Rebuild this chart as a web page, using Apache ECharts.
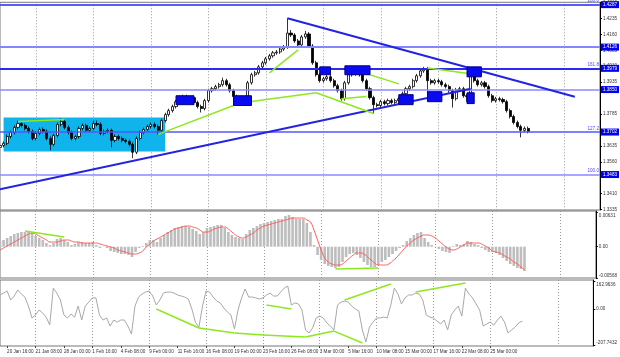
<!DOCTYPE html>
<html><head><meta charset="utf-8">
<script src="https://cdn.jsdelivr.net/npm/echarts@6/dist/echarts.min.js"></script>
<style>html,body{margin:0;padding:0;background:#fff}#c{width:620px;height:357px}</style>
</head><body><div id="c"></div>
<script>
// ---- data ----
const tickLabels = ['20 Jan 16:00','21 Jan 08:00','28 Jan 00:00','1 Feb 16:00','4 Feb 08:00','9 Feb 00:00','11 Feb 16:00','16 Feb 08:00','19 Feb 00:00','23 Feb 16:00','26 Feb 08:00','3 Mar 00:00','5 Mar 16:00','10 Mar 08:00','15 Mar 00:00','17 Mar 16:00','22 Mar 08:00','25 Mar 00:00'];
// [open, close, low, high]
const candles = [
[1.3628,1.3637,1.3619,1.3646],[1.3637,1.3647,1.3628,1.3656],[1.3647,1.3679,1.3638,1.3688],[1.3679,1.3698,1.3670,1.3707],
[1.3698,1.3722,1.3689,1.3731],[1.3722,1.3740,1.3713,1.3754],[1.3740,1.3731,1.3722,1.3749],[1.3731,1.3717,1.3708,1.3740],
[1.3717,1.3703,1.3694,1.3726],[1.3703,1.3670,1.3661,1.3712],[1.3670,1.3694,1.3661,1.3703],[1.3694,1.3712,1.3685,1.3721],
[1.3712,1.3703,1.3694,1.3721],[1.3703,1.3670,1.3661,1.3712],[1.3670,1.3642,1.3614,1.3679],[1.3642,1.3684,1.3633,1.3693],
[1.3684,1.3736,1.3675,1.3745],[1.3736,1.3750,1.3727,1.3764],[1.3750,1.3722,1.3713,1.3759],[1.3722,1.3698,1.3689,1.3731],
[1.3698,1.3670,1.3661,1.3707],[1.3670,1.3679,1.3661,1.3688],[1.3679,1.3717,1.3670,1.3726],[1.3717,1.3731,1.3708,1.3740],
[1.3731,1.3708,1.3699,1.3740],[1.3708,1.3717,1.3699,1.3726],[1.3717,1.3740,1.3708,1.3754],[1.3740,1.3736,1.3727,1.3754],
[1.3736,1.3694,1.3685,1.3745],[1.3694,1.3703,1.3685,1.3712],[1.3703,1.3708,1.3694,1.3717],[1.3708,1.3661,1.3628,1.3717],
[1.3661,1.3679,1.3652,1.3688],[1.3679,1.3670,1.3661,1.3688],[1.3670,1.3661,1.3652,1.3679],[1.3661,1.3656,1.3647,1.3670],
[1.3656,1.3642,1.3633,1.3665],[1.3642,1.3605,1.3577,1.3651],[1.3605,1.3670,1.3596,1.3679],[1.3670,1.3698,1.3661,1.3707],
[1.3698,1.3712,1.3689,1.3721],[1.3712,1.3726,1.3703,1.3735],[1.3726,1.3736,1.3717,1.3745],[1.3736,1.3726,1.3717,1.3745],
[1.3726,1.3708,1.3689,1.3735],[1.3708,1.3754,1.3699,1.3763],[1.3754,1.3782,1.3745,1.3791],[1.3782,1.3801,1.3773,1.3810],
[1.3801,1.3820,1.3792,1.3829],[1.3820,1.3843,1.3811,1.3852],[1.3843,1.3862,1.3834,1.3871],[1.3862,1.3867,1.3853,1.3876],
[1.3867,1.3857,1.3848,1.3876],[1.3857,1.3862,1.3848,1.3871],[1.3862,1.3839,1.3830,1.3871],[1.3839,1.3820,1.3811,1.3848],
[1.3820,1.3811,1.3792,1.3829],[1.3811,1.3848,1.3802,1.3857],[1.3848,1.3895,1.3839,1.3904],[1.3895,1.3904,1.3886,1.3913],
[1.3904,1.3914,1.3895,1.3923],[1.3914,1.3923,1.3905,1.3932],[1.3923,1.3942,1.3914,1.3956],[1.3942,1.3923,1.3914,1.3951],
[1.3923,1.3895,1.3886,1.3932],[1.3895,1.3867,1.3858,1.3904],[1.3867,1.3857,1.3848,1.3876],[1.3857,1.3848,1.3839,1.3866],
[1.3848,1.3843,1.3834,1.3857],[1.3843,1.3932,1.3834,1.3941],[1.3932,1.3970,1.3923,1.3979],[1.3970,1.3979,1.3961,1.3988],
[1.3979,1.4007,1.3970,1.4016],[1.4007,1.4026,1.3998,1.4035],[1.4026,1.4045,1.4017,1.4054],[1.4045,1.4059,1.4036,1.4068],
[1.4059,1.4073,1.4050,1.4082],[1.4073,1.4077,1.4064,1.4086],[1.4077,1.4091,1.4068,1.4100],[1.4091,1.4101,1.4082,1.4110],
[1.4101,1.4166,1.4092,1.4236],[1.4166,1.4157,1.4148,1.4180],[1.4157,1.4129,1.4120,1.4166],[1.4129,1.4110,1.4101,1.4138],
[1.4110,1.4148,1.4101,1.4157],[1.4148,1.4162,1.4139,1.4176],[1.4162,1.4105,1.4096,1.4171],[1.4105,1.4026,1.4017,1.4114],
[1.4026,1.3970,1.3961,1.4035],[1.3970,1.3942,1.3933,1.3979],[1.3942,1.3951,1.3933,1.3960],[1.3951,1.3960,1.3942,1.3969],
[1.3960,1.3942,1.3933,1.3969],[1.3942,1.3918,1.3909,1.3951],[1.3918,1.3895,1.3886,1.3927],[1.3895,1.3857,1.3848,1.3904],
[1.3857,1.3932,1.3848,1.3941],[1.3932,1.3970,1.3923,1.3979],[1.3970,1.3974,1.3961,1.3983],[1.3974,1.3979,1.3965,1.3988],
[1.3979,1.3970,1.3961,1.3988],[1.3970,1.3942,1.3933,1.3979],[1.3942,1.3904,1.3895,1.3951],[1.3904,1.3862,1.3853,1.3913],
[1.3862,1.3829,1.3787,1.3871],[1.3829,1.3825,1.3816,1.3838],[1.3825,1.3843,1.3816,1.3852],[1.3843,1.3834,1.3825,1.3852],
[1.3834,1.3848,1.3825,1.3857],[1.3848,1.3839,1.3830,1.3857],[1.3839,1.3848,1.3830,1.3857],[1.3848,1.3857,1.3839,1.3866],
[1.3857,1.3881,1.3848,1.3890],[1.3881,1.3904,1.3872,1.3913],[1.3904,1.3914,1.3895,1.3923],[1.3914,1.3942,1.3905,1.3951],
[1.3942,1.3965,1.3933,1.3974],[1.3965,1.3988,1.3956,1.3997],[1.3988,1.3998,1.3979,1.4007],[1.3998,1.3942,1.3881,1.4007],
[1.3942,1.3932,1.3923,1.3951],[1.3932,1.3942,1.3923,1.3951],[1.3942,1.3937,1.3928,1.3951],[1.3937,1.3923,1.3914,1.3946],
[1.3923,1.3914,1.3905,1.3932],[1.3914,1.3895,1.3886,1.3923],[1.3895,1.3857,1.3815,1.3904],[1.3857,1.3899,1.3848,1.3908],
[1.3899,1.3904,1.3890,1.3913],[1.3904,1.3871,1.3862,1.3913],[1.3871,1.3867,1.3843,1.3880],[1.3867,1.3970,1.3858,1.3998],
[1.3970,1.3942,1.3933,1.3979],[1.3942,1.3923,1.3914,1.3951],[1.3923,1.3932,1.3914,1.3941],[1.3932,1.3914,1.3905,1.3941],
[1.3914,1.3871,1.3862,1.3923],[1.3871,1.3848,1.3839,1.3880],[1.3848,1.3857,1.3839,1.3866],[1.3857,1.3853,1.3844,1.3866],
[1.3853,1.3843,1.3834,1.3862],[1.3843,1.3801,1.3792,1.3852],[1.3801,1.3773,1.3764,1.3810],[1.3773,1.3745,1.3736,1.3782],
[1.3745,1.3726,1.3717,1.3754],[1.3726,1.3708,1.3675,1.3735],[1.3708,1.3717,1.3699,1.3726],[1.3717,1.3703,1.3694,1.3726]
];
const macdHist = [
0.00104,0.00122,0.00158,0.00194,0.00230,0.00249,0.00267,0.00267,0.00267,0.00249,0.00194,0.00158,0.00122,0.00067,0.00031,0.00067,
0.00140,0.00158,0.00122,0.00085,0.00031,0.00049,0.00085,0.00085,0.00067,0.00067,0.00085,0.00031,-0.00024,-0.00005,-0.00024,-0.00078,
-0.00096,-0.00114,-0.00133,-0.00133,-0.00151,-0.00187,-0.00096,-0.00024,0.00013,0.00067,0.00122,0.00122,0.00085,0.00158,0.00213,0.00267,
0.00303,0.00340,0.00358,0.00376,0.00376,0.00358,0.00321,0.00285,0.00230,0.00267,0.00340,0.00358,0.00376,0.00394,0.00394,0.00340,
0.00267,0.00213,0.00176,0.00158,0.00140,0.00230,0.00303,0.00340,0.00376,0.00412,0.00431,0.00449,0.00467,0.00485,0.00503,0.00503,
0.00558,0.00576,0.00540,0.00503,0.00503,0.00503,0.00431,0.00267,0.00031,-0.00151,-0.00242,-0.00314,-0.00351,-0.00369,-0.00387,-0.00369,
-0.00278,-0.00187,-0.00133,-0.00114,-0.00151,-0.00205,-0.00278,-0.00333,-0.00369,-0.00369,-0.00333,-0.00278,-0.00242,-0.00187,-0.00133,-0.00078,
-0.00024,0.00031,0.00104,0.00158,0.00213,0.00249,0.00267,0.00158,0.00085,0.00031,-0.00005,-0.00042,-0.00078,-0.00096,-0.00114,0.00013,
0.00049,0.00031,0.00049,0.00104,0.00085,0.00049,0.00031,-0.00024,-0.00060,-0.00096,-0.00096,-0.00114,-0.00151,-0.00205,-0.00260,-0.00314,
-0.00351,-0.00387,-0.00405,-0.00442
];
const macdSignal = [
-0.00060,-0.00024,0.00013,0.00049,0.00085,0.00122,0.00158,0.00194,0.00230,0.00249,0.00230,0.00194,0.00158,0.00122,0.00085,0.00085,
0.00085,0.00104,0.00122,0.00122,0.00104,0.00085,0.00085,0.00067,0.00067,0.00067,0.00067,0.00067,0.00049,0.00031,0.00013,-0.00005,
-0.00024,-0.00060,-0.00078,-0.00096,-0.00114,-0.00133,-0.00133,-0.00114,-0.00078,-0.00005,0.00049,0.00104,0.00140,0.00176,0.00213,0.00249,
0.00285,0.00321,0.00340,0.00358,0.00376,0.00376,0.00358,0.00340,0.00303,0.00267,0.00267,0.00285,0.00321,0.00340,0.00358,0.00358,
0.00321,0.00267,0.00213,0.00176,0.00158,0.00176,0.00213,0.00249,0.00303,0.00340,0.00376,0.00394,0.00412,0.00431,0.00449,0.00467,
0.00485,0.00503,0.00521,0.00521,0.00521,0.00521,0.00485,0.00449,0.00303,0.00122,-0.00060,-0.00205,-0.00278,-0.00314,-0.00333,-0.00333,
-0.00314,-0.00260,-0.00205,-0.00151,-0.00114,-0.00114,-0.00133,-0.00187,-0.00242,-0.00296,-0.00333,-0.00333,-0.00333,-0.00314,-0.00260,-0.00205,
-0.00133,-0.00060,0.00013,0.00067,0.00122,0.00158,0.00194,0.00213,0.00213,0.00194,0.00158,0.00104,0.00049,-0.00005,-0.00042,-0.00060,
-0.00042,-0.00005,0.00031,0.00067,0.00067,0.00067,0.00067,0.00049,0.00013,-0.00024,-0.00078,-0.00096,-0.00114,-0.00151,-0.00187,-0.00223,
-0.00278,-0.00314,-0.00369,-0.00424
];
const cci = [
82,93,105,53,76,111,88,70,18,-51,-34,-5,-22,-46,-92,122,
93,53,-34,-51,-28,-46,18,-63,18,41,65,65,-34,-63,-51,-98,
-63,-75,-63,-63,-98,-144,18,70,88,99,105,76,24,53,93,99,
99,93,82,76,70,59,1,-75,-104,18,105,99,70,47,36,7,
-17,-34,-115,-5,65,117,70,70,65,59,65,82,93,76,76,99,
122,134,24,36,30,-5,-121,-138,-109,-51,-40,-51,-80,-98,-121,24,
41,47,41,18,1,-11,-121,-190,-104,-75,-51,-51,-46,-51,24,122,
88,30,65,82,82,93,88,53,-34,-46,-51,-69,-86,-63,-121,-34,
-5,18,-40,122,88,65,30,-5,-98,-86,-75,-92,-63,-40,-75,-138,
-121,-104,-80,-69
];
const priceTicks = [1.3335,1.3410,1.3560,1.3635,1.3785,1.3935,1.4010,1.4085,1.4160,1.4235,1.4310];
const macdTicks = [0.00631,0,-0.00568];
const cciTicks = [162.9636,0,-207.7432];
const levelValues = [1.4287,1.4126,1.3979,1.3850,1.3702,1.3483];
const fibValues = [1.4287,1.3979,1.3702,1.3483];
const fibLabels = ['200.0','161.8','127.2','100.0'];
// trend lines [cat, price] pairs
const blueTrends = [[[0,1.3431],[131,1.3904]],[[80,1.4236],[160,1.3866]]];
const greenPrice = [
 [[5,1.3750],[18,1.3759]],[[44,1.3689],[65,1.3825]],[[68,1.3839],[88,1.3885]],[[75,1.3979],[83,1.4087]],
 [[88,1.3885],[104,1.3787]],[[95,1.3857],[102,1.3867]],[[97,1.4002],[111,1.3927]],[[119,1.4002],[131,1.3974]]
];
const greenMacd = [[[7,0.00285],[18,0.00176]],[[94,-0.00405],[106,-0.00387]]];
const greenCci = [
 [[44,1],[56,-109]],[[56,-109],[66,-138]],[[66,-138],[74,-150]],[[74,-150],[86,-161]],[[86,-161],[94,-127]],[[94,-127],[102,-196]],
 [[75,24],[82,1]],[[97,53],[110,146]],[[117,99],[131,151]]
];
// zones: [cat1, price1, cat2, price2]
const cyanZone = [1,1.3609,46,1.3768];
const blueZones = [
 [49,1.3829,54,1.3871],[65,1.3825,70,1.3871],[89,1.3970,92,1.4007],[96,1.3970,103,1.4012],
 [111,1.3829,115,1.3876],[119,1.3843,123,1.3890],[130,1.3960,134,1.4007],[130,1.3834,132,1.3885]
];
const gridCats = [10,26,42,58,74,90,106,122,138,157];

// ---- chart ----
const N = 168;
const cats = Array.from({length:N},(_,i)=>String(i));
const labelAt = {}; tickLabels.forEach((t,k)=>{labelAt[2+8*k]=t;});
const gridSet = new Set(gridCats);
const font = 'Liberation Sans';
const FS = 4.6;
const isLab = (i)=>labelAt[i]!==undefined;
function xAx(gi, show){
  return {type:'category', gridIndex:gi, data:cats, boundaryGap:false,
    axisLine:{show:false, onZero:false},
    axisTick:{show:show, interval:isLab, length:2, lineStyle:{color:'#444'}},
    axisLabel:{show:show, interval:isLab, formatter:(v)=>labelAt[+v]||'', align:'left', fontSize:FS, color:'#333', margin:3, fontFamily:font, showMinLabel:true, hideOverlap:false},
    splitLine:{show:true, interval:(i)=>gridSet.has(i), lineStyle:{color:'#9a9a9a', type:[1,2], width:1}}};
}
function yAx(gi,min,max,ticks,fmt){
  return {type:'value', gridIndex:gi, position:'right', min:min, max:max, scale:true,
    splitLine:{show:false}, axisLine:{show:true, lineStyle:{color:'#000'}},
    axisTick:{show:true, length:2, customValues:ticks, lineStyle:{color:'#000'}},
    axisLabel:{customValues:ticks, formatter:fmt, fontSize:FS, color:'#333', margin:3, fontFamily:font,
      rich:{dn:{fontSize:FS, color:'#333', fontFamily:font, padding:[7,0,0,0]}, up:{fontSize:FS, color:'#333', fontFamily:font, padding:[0,0,5,0]}}}};
}
const seg = (pairs)=>pairs.map(p=>[{coord:p[0]},{coord:p[1]}]);
const levelColors = ['#5a5aff','#8585ff','#2a2af0','#8a8aff','#5555ff','#8a8aff'];
const levelWidths = [2,2,2,1.5,1.5,1.5];

const option = {
  animation:false,
  backgroundColor:'#ffffff',
  grid:[
    {left:0, width:600, top:1, height:209, show:true, borderColor:'#777', borderWidth:1},
    {left:0, width:600, top:211, height:67, show:true, borderColor:'#777', borderWidth:1},
    {left:0, width:600, top:280, height:66, show:true, borderColor:'#777', borderWidth:1}
  ],
  xAxis:[xAx(0,false), xAx(1,false), xAx(2,true)],
  yAxis:[
    yAx(0,1.3333,1.4311,priceTicks,v=>v.toFixed(4)),
    yAx(1,-0.00569,0.00649,macdTicks,v=>v===0?'0.00':(v>0?'{dn|'+v.toFixed(5)+'}':'{up|'+v.toFixed(5)+'}')),
    yAx(2,-213.5,168.8,cciTicks,v=>v===0?'0.00':(v>0?'{dn|'+v.toFixed(4)+'}':'{up|'+v.toFixed(4)+'}'))
  ],
  series:[
    {type:'candlestick', xAxisIndex:0, yAxisIndex:0, data:candles, barWidth:2.6, z:3,
     itemStyle:{color:'#ffffff', color0:'#000000', borderColor:'#000000', borderColor0:'#000000', borderWidth:0.8},
     markArea:{silent:true, itemStyle:{color:'#0fb4ec'},
       data:[[{coord:[cyanZone[0],cyanZone[1]]},{coord:[cyanZone[2],cyanZone[3]]}]]},
     markLine:{silent:true, symbol:['none','none'], animation:false,
       data:[].concat(
         levelValues.map((v,k)=>({yAxis:v, lineStyle:{color:levelColors[k], width:levelWidths[k], type:'solid'},
           label:{show:true, position:'end', formatter:v.toFixed(4), backgroundColor:'#0000f0', color:'#fff', fontSize:FS, fontFamily:font, padding:[1,2,1,2], distance:1}})),
         fibValues.map((v,k)=>({yAxis:v, lineStyle:{color:'rgba(0,0,0,0)', width:0},
           label:{show:true, position:'insideEndTop', formatter:fibLabels[k], color:'#4a4aff', fontSize:FS, fontFamily:font, distance:1}})),
         seg(blueTrends).map(s=>{s[0].lineStyle={color:'#2424e0', width:2, type:'solid'}; s[0].label={show:false}; return s;}),
         seg(greenPrice).map(s=>{s[0].lineStyle={color:'#8de81e', width:1.5, type:'solid'}; s[0].label={show:false}; return s;})
       )}
    },
    {type:'line', xAxisIndex:0, yAxisIndex:0, data:[], z:10,
     markArea:{silent:true, z:10, itemStyle:{color:'#0a0af2', borderColor:'#000080', borderWidth:1},
       data: blueZones.map(b=>[{coord:[b[0],b[1]]},{coord:[b[2],b[3]]}])}
    },
    {type:'bar', xAxisIndex:1, yAxisIndex:1, data:macdHist, barWidth:2.6, itemStyle:{color:'#bdbdbd'},
     markLine:{silent:true, symbol:['none','none'], label:{show:false}, lineStyle:{color:'#8de81e', width:1.5, type:'solid'}, data:seg(greenMacd)}},
    {type:'line', xAxisIndex:1, yAxisIndex:1, data:macdSignal, smooth:true, symbol:'none', lineStyle:{color:'#ff5a5a', width:1}},
    {type:'line', xAxisIndex:2, yAxisIndex:2, data:cci, symbol:'none', lineStyle:{color:'#a8a8a8', width:1},
     markLine:{silent:true, symbol:['none','none'], label:{show:false}, lineStyle:{color:'#8de81e', width:1.5, type:'solid'}, data:seg(greenCci)}}
  ]
};
const chart = echarts.init(document.getElementById('c'));
chart.setOption(option);
</script>
</body></html>
